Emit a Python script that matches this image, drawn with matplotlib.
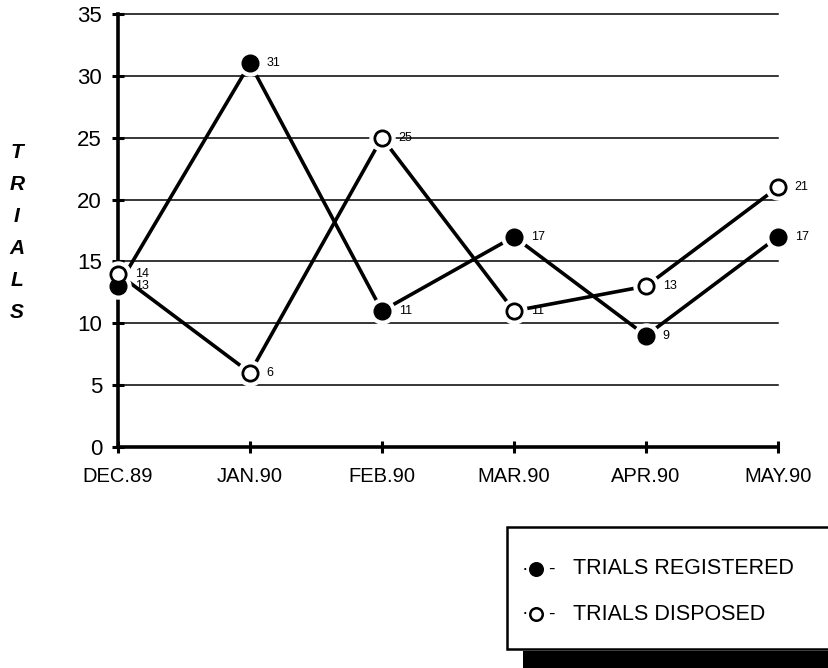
import matplotlib.pyplot as plt
from matplotlib.patches import Rectangle
from matplotlib.lines import Line2D

plt.rcParams['font.family'] = ['Liberation Sans', 'DejaVu Sans']

months = ['DEC.89', 'JAN.90', 'FEB.90', 'MAR.90', 'APR.90', 'MAY.90']
registered = [13, 31, 11, 17, 9, 17]
disposed = [14, 6, 25, 11, 13, 21]
y_ticks = [0, 5, 10, 15, 20, 25, 30, 35]

fig = plt.figure(figsize=(8.29, 6.68), dpi=100)
ax = fig.add_axes([118 / 829, 1 - 447 / 668, 660 / 829, 433 / 668])

x = list(range(len(months)))

# grid
for v in y_ticks[1:]:
    ax.axhline(v, color='black', lw=1.1, zorder=1)

# series lines, white halo around markers, then markers
ax.plot(x, registered, color='black', lw=2.6, zorder=2)
ax.plot(x, disposed, color='black', lw=2.6, zorder=2)
ax.plot(x, registered, 'o', ms=18, color='white', mec='white', zorder=3)
ax.plot(x, disposed, 'o', ms=18, color='white', mec='white', zorder=3)
ax.plot(x, registered, 'o', ms=12, color='black', zorder=4)
ax.plot(x, disposed, 'o', ms=11, mfc='white', mec='black', mew=2.0, zorder=5)

for xi, v in zip(x, registered):
    ax.annotate(str(v), (xi, v), xytext=(12, 0), textcoords='offset points',
                fontsize=9, va='center', ha='left', zorder=6)
for xi, v in zip(x, disposed):
    ax.annotate(str(v), (xi, v), xytext=(12, 0), textcoords='offset points',
                fontsize=9, va='center', ha='left', zorder=6)

ax.set_xlim(0, 5)
ax.set_ylim(0, 35)
ax.set_yticks(y_ticks)
ax.set_xticks(x)
ax.set_xticklabels(months)
ax.tick_params(axis='both', width=2.2, length=9,
               direction='inout', color='black')
ax.tick_params(axis='y', pad=7, labelsize=16)
ax.tick_params(axis='x', pad=10, labelsize=14.5)

for side in ['top', 'right']:
    ax.spines[side].set_visible(False)
for side in ['left', 'bottom']:
    ax.spines[side].set_linewidth(2.6)
for artist in ax.lines:
    artist.set_clip_on(False)

# stacked vertical axis title
for i, ch in enumerate('TRIALS'):
    fig.text(17 / 829, 1 - (153 + i * 32) / 668, ch, fontsize=15,
             fontweight='bold', fontstyle='italic', ha='center', va='center')

# legend box with drop shadow
fig.patches.append(Rectangle((523 / 829, 0), 320 / 829, 17 / 668,
                             transform=fig.transFigure, facecolor='black',
                             edgecolor='none', zorder=1))
fig.patches.append(Rectangle((507 / 829, 1 - 649 / 668), 330 / 829, 122 / 668,
                             transform=fig.transFigure, facecolor='white',
                             edgecolor='black', lw=1.8, zorder=2))

entries = [('TRIALS REGISTERED', 'black', 569),
           ('TRIALS DISPOSED', 'white', 614)]
for label, face, ypx in entries:
    yf = 1 - ypx / 668
    fig.text(525 / 829, yf, '·', fontsize=14, ha='center', va='center', zorder=3)
    fig.lines.append(Line2D([536 / 829], [yf], marker='o', ms=9,
                            mfc=face, mec='black', mew=1.8,
                            transform=fig.transFigure, zorder=3))
    fig.text(551 / 829, yf, '-', fontsize=14, ha='center', va='center', zorder=3)
    fig.text(573 / 829, yf, label, fontsize=15.5, ha='left', va='center', zorder=3)

fig.savefig('out.png', dpi=100)
